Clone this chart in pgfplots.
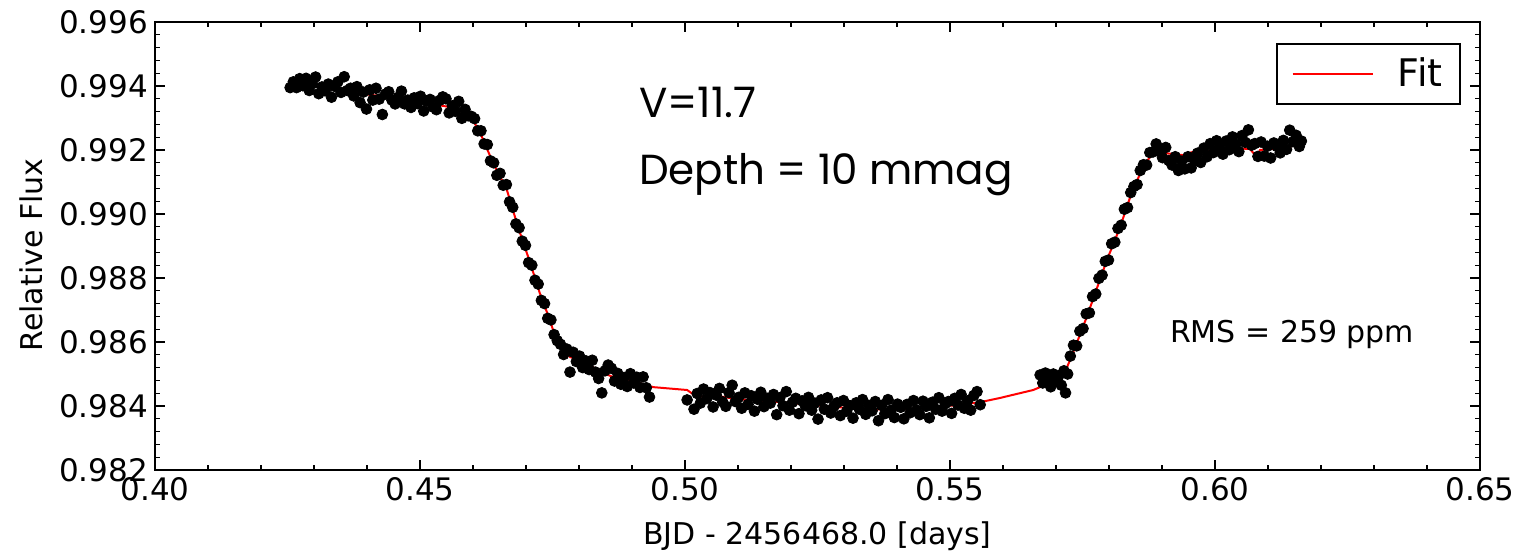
\documentclass[border=0pt]{standalone}
\usepackage{fontspec}
\setmainfont{DejaVu Sans}
\newfontfamily\comic{Poppins}
\usepackage{pgfplots}
\usepackage{pgfplotstable}
\pgfplotsset{compat=1.18}
\pgfplotstableread{
x y
0.4255 0.99395
0.4261 0.99413
0.4267 0.99395
0.4273 0.99423
0.4279 0.99401
0.4285 0.99424
0.4291 0.99386
0.4297 0.99407
0.4303 0.99428
0.4309 0.99376
0.4315 0.99397
0.4321 0.99385
0.4327 0.99406
0.4333 0.99365
0.4339 0.99399
0.4345 0.99413
0.4351 0.99380
0.4357 0.99429
0.4363 0.99386
0.4369 0.99393
0.4375 0.99369
0.4381 0.99398
0.4387 0.99348
0.4393 0.99381
0.4399 0.99328
0.4405 0.99388
0.4411 0.99356
0.4417 0.99393
0.4423 0.99359
0.4429 0.99311
0.4435 0.99375
0.4441 0.99382
0.4447 0.99356
0.4453 0.99344
0.4459 0.99365
0.4465 0.99384
0.4471 0.99344
0.4477 0.99356
0.4483 0.99333
0.4489 0.99363
0.4495 0.99345
0.4501 0.99368
0.4507 0.99322
0.4513 0.99353
0.4519 0.99358
0.4525 0.99334
0.4531 0.99326
0.4537 0.99355
0.4543 0.99366
0.4549 0.99360
0.4555 0.99316
0.4561 0.99338
0.4567 0.99321
0.4573 0.99352
0.4579 0.99299
0.4585 0.99327
0.4591 0.99307
0.4597 0.99305
0.4603 0.99298
0.4609 0.99260
0.4615 0.99260
0.4621 0.99219
0.4627 0.99217
0.4633 0.99166
0.4639 0.99160
0.4645 0.99121
0.4651 0.99127
0.4657 0.99090
0.4663 0.99092
0.4669 0.99038
0.4675 0.99021
0.4681 0.98969
0.4687 0.98957
0.4693 0.98915
0.4699 0.98902
0.4705 0.98848
0.4711 0.98840
0.4717 0.98793
0.4723 0.98781
0.4729 0.98730
0.4735 0.98720
0.4741 0.98674
0.4747 0.98669
0.4753 0.98623
0.4759 0.98604
0.4765 0.98593
0.4771 0.98561
0.4777 0.98578
0.4783 0.98506
0.4789 0.98568
0.4795 0.98539
0.4801 0.98556
0.4807 0.98520
0.4813 0.98541
0.4819 0.98514
0.4825 0.98543
0.4831 0.98506
0.4837 0.98486
0.4843 0.98441
0.4849 0.98510
0.4855 0.98528
0.4861 0.98518
0.4867 0.98478
0.4873 0.98502
0.4879 0.98468
0.4885 0.98489
0.4891 0.98461
0.4897 0.98501
0.4903 0.98472
0.4909 0.98490
0.4915 0.98458
0.4921 0.98491
0.4927 0.98457
0.4933 0.98428
0.5004 0.98419
0.5017 0.98390
0.5023 0.98439
0.5029 0.98409
0.5035 0.98453
0.5041 0.98423
0.5047 0.98442
0.5053 0.98397
0.5059 0.98434
0.5065 0.98455
0.5071 0.98413
0.5077 0.98399
0.5083 0.98442
0.5089 0.98465
0.5095 0.98414
0.5101 0.98427
0.5107 0.98393
0.5113 0.98441
0.5119 0.98405
0.5125 0.98432
0.5131 0.98384
0.5137 0.98421
0.5143 0.98443
0.5149 0.98398
0.5155 0.98424
0.5161 0.98409
0.5167 0.98436
0.5173 0.98373
0.5179 0.98426
0.5185 0.98401
0.5191 0.98445
0.5197 0.98387
0.5203 0.98412
0.5209 0.98424
0.5215 0.98376
0.5221 0.98416
0.5227 0.98401
0.5233 0.98427
0.5239 0.98387
0.5245 0.98409
0.5251 0.98359
0.5257 0.98419
0.5263 0.98390
0.5269 0.98426
0.5275 0.98378
0.5281 0.98399
0.5287 0.98410
0.5293 0.98370
0.5299 0.98417
0.5305 0.98384
0.5311 0.98401
0.5317 0.98362
0.5323 0.98410
0.5329 0.98390
0.5335 0.98420
0.5341 0.98374
0.5347 0.98402
0.5353 0.98385
0.5359 0.98414
0.5365 0.98354
0.5371 0.98402
0.5377 0.98376
0.5383 0.98420
0.5389 0.98387
0.5395 0.98364
0.5401 0.98406
0.5407 0.98396
0.5413 0.98360
0.5419 0.98405
0.5425 0.98379
0.5431 0.98417
0.5437 0.98387
0.5443 0.98373
0.5449 0.98415
0.5455 0.98399
0.5461 0.98363
0.5467 0.98412
0.5473 0.98390
0.5479 0.98426
0.5485 0.98384
0.5491 0.98407
0.5497 0.98414
0.5503 0.98377
0.5509 0.98424
0.5515 0.98403
0.5521 0.98436
0.5527 0.98393
0.5533 0.98416
0.5539 0.98387
0.5545 0.98433
0.5551 0.98445
0.5557 0.98404
0.5670 0.98497
0.5675 0.98472
0.5680 0.98503
0.5685 0.98485
0.5690 0.98460
0.5695 0.98500
0.5700 0.98478
0.5705 0.98494
0.5710 0.98465
0.5715 0.98510
0.5718 0.98441
0.5722 0.98500
0.5727 0.98556
0.5733 0.98590
0.5739 0.98588
0.5745 0.98634
0.5751 0.98642
0.5757 0.98688
0.5763 0.98691
0.5769 0.98742
0.5775 0.98750
0.5781 0.98799
0.5787 0.98809
0.5793 0.98852
0.5799 0.98856
0.5805 0.98907
0.5811 0.98912
0.5817 0.98955
0.5823 0.98965
0.5829 0.99015
0.5835 0.99020
0.5841 0.99067
0.5847 0.99086
0.5853 0.99092
0.5859 0.99136
0.5865 0.99154
0.5871 0.99153
0.5877 0.99192
0.5883 0.99194
0.5889 0.99219
0.5895 0.99196
0.5901 0.99176
0.5907 0.99208
0.5913 0.99167
0.5919 0.99153
0.5925 0.99179
0.5931 0.99136
0.5937 0.99165
0.5943 0.99141
0.5949 0.99179
0.5955 0.99144
0.5961 0.99169
0.5967 0.99190
0.5973 0.99161
0.5979 0.99206
0.5985 0.99179
0.5991 0.99220
0.5997 0.99192
0.6003 0.99229
0.6009 0.99208
0.6015 0.99187
0.6021 0.99228
0.6027 0.99201
0.6033 0.99241
0.6039 0.99218
0.6045 0.99195
0.6051 0.99245
0.6057 0.99224
0.6063 0.99263
0.6069 0.99215
0.6075 0.99220
0.6081 0.99180
0.6087 0.99225
0.6093 0.99181
0.6099 0.99212
0.6105 0.99175
0.6111 0.99222
0.6117 0.99211
0.6123 0.99191
0.6129 0.99230
0.6135 0.99202
0.6141 0.99262
0.6147 0.99226
0.6153 0.99246
0.6159 0.99211
0.6163 0.99228
}\datatable
\pgfplotstableread{
x y
0.4255 0.99413
0.4268 0.99416
0.4279 0.99397
0.4300 0.99400
0.4320 0.99392
0.4343 0.99388
0.4370 0.99385
0.4390 0.99378
0.4406 0.99372
0.4430 0.99369
0.4450 0.99360
0.4468 0.99356
0.4490 0.99352
0.4510 0.99347
0.4532 0.99341
0.4550 0.99336
0.4570 0.99325
0.4594 0.99309
0.4613 0.99256
0.4638 0.99159
0.4664 0.99075
0.4685 0.98959
0.4708 0.98847
0.4726 0.98753
0.4745 0.98669
0.4760 0.98591
0.4783 0.98553
0.4802 0.98544
0.4815 0.98534
0.4834 0.98513
0.4850 0.98500
0.4864 0.98491
0.4880 0.98490
0.4896 0.98481
0.4940 0.98459
0.5004 0.98450
0.5023 0.98428
0.5053 0.98434
0.5085 0.98425
0.5117 0.98419
0.5150 0.98416
0.5179 0.98412
0.5210 0.98408
0.5242 0.98403
0.5279 0.98397
0.5320 0.98393
0.5360 0.98390
0.5406 0.98388
0.5440 0.98394
0.5468 0.98397
0.5510 0.98402
0.5557 0.98412
0.5594 0.98425
0.5657 0.98450
0.5702 0.98481
0.5721 0.98522
0.5732 0.98566
0.5758 0.98678
0.5796 0.98856
0.5821 0.98959
0.5840 0.99053
0.5864 0.99147
0.5883 0.99191
0.5902 0.99191
0.5940 0.99184
0.5958 0.99194
0.6009 0.99200
0.6034 0.99206
0.6066 0.99203
0.6079 0.99178
0.6085 0.99200
0.6123 0.99206
0.6135 0.99199
0.6147 0.99216
0.6160 0.99216
}\fittable
\begin{document}
\begin{tikzpicture}
\begin{axis}[
  scale only axis,
  width=662.5pt, height=224pt,
  xmin=0.40, xmax=0.65, ymin=0.982, ymax=0.996,
  xtick={0.40,0.45,0.50,0.55,0.60,0.65},
  ytick={0.982,0.984,0.986,0.988,0.990,0.992,0.994,0.996},
  minor x tick num=4, minor y tick num=4,
  scaled ticks=false,
  tick align=inside,
  major tick length=5pt, minor tick length=2.5pt,
  axis line style={line width=1pt},
  every tick/.style={black, line width=0.6pt},
  /pgf/number format/assume math mode=true,
  xticklabel style={/pgf/number format/.cd, fixed, fixed zerofill, precision=2},
  yticklabel style={/pgf/number format/.cd, fixed, fixed zerofill, precision=3},
  tick label style={font=\fontsize{15.5}{18}\selectfont},
  label style={font=\fontsize{15}{18}\selectfont},
  xlabel={BJD - 2456468.0 [days]},
  ylabel={Relative Flux},
  xlabel style={at={(axis description cs:0.5,0)}, anchor=center, yshift=-33pt},
  ylabel style={at={([xshift=-62pt]axis description cs:0,0.48)}, anchor=center},
  legend style={at={(0.986,0.953)}, anchor=north east, draw=black, line width=1pt,
    font=\fontsize{19}{22}\selectfont, inner xsep=7pt, inner ysep=5pt},
  legend image code/.code={\draw[#1, line width=1.2pt] (0pt,0pt) -- (40pt,0pt);},
]
\addplot[only marks, mark=*, mark size=2.7pt, black, forget plot] table[x=x,y=y] {\datatable};
\addplot[red, line width=1pt] table[x=x,y=y] {\fittable};
\addlegendentry{\hspace{10pt}Fit}
\node[anchor=base west, font=\comic\fontsize{21}{25}\selectfont] at (axis cs:0.4900,0.99303) {V=11.7};
\node[anchor=base west, font=\comic\fontsize{21}{25}\selectfont] at (axis cs:0.4900,0.99091) {Depth = 10 mmag};
\node[anchor=base west, font=\fontsize{15}{18}\selectfont] at (axis cs:0.5902,0.98597) {RMS = 259 ppm};
\end{axis}
\pgfresetboundingbox
\path[use as bounding box] (-77.5pt,-41.5pt) rectangle (686.5pt,235pt);
\end{tikzpicture}
\end{document}
